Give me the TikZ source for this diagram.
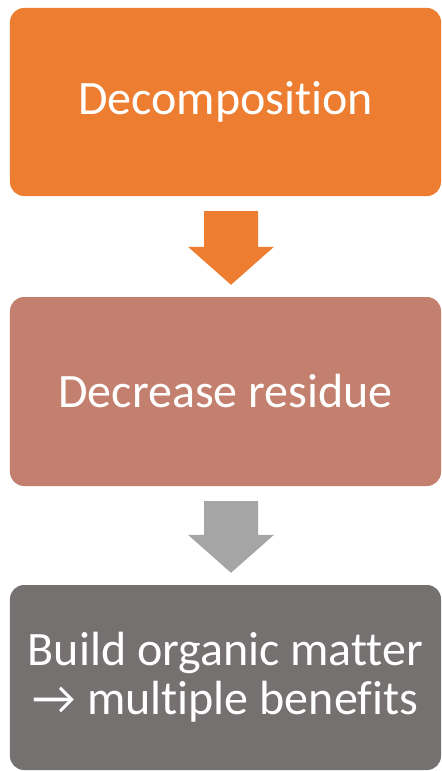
\documentclass[tikz,border=0pt]{standalone}
\usepackage{fontspec}
\setmainfont[Ligatures=NoCommon]{Carlito}
\usetikzlibrary{calc}
\definecolor{carrot}{HTML}{ED7D31}
\definecolor{clay}{HTML}{C4806F}
\definecolor{slate}{HTML}{767171}
\definecolor{ash}{HTML}{A5A5A5}
\tikzset{
  stagebox/.style={
    rounded corners=14bp, draw=none, text=white, align=center,
    minimum width=431bp, inner sep=0pt,
    font=\fontsize{48bp}{49bp}\selectfont},
}
% block arrow between two boxes
\newcommand{\blockarrow}[3]{%
  \coordinate (#1top) at ($(#2.south)+(5.5,15)$);
  \coordinate (#1tip) at ($(#3.north)+(5.5,-12)$);
  \fill[#1]
    ($(#1top)+(-27,0)$) -- ($(#1top)+(27,0)$) -- ($(#1tip)+(27,-38)$)
    -- ($(#1tip)+(43,-38)$) -- (#1tip) -- ($(#1tip)+(-43,-38)$)
    -- ($(#1tip)+(-27,-38)$) -- cycle;
}

\begin{document}
\begin{tikzpicture}[x=1bp,y=-1bp]
    \useasboundingbox (0,0) rectangle (442,771);
    \node[stagebox,fill=carrot,minimum height=188bp] (decomp) at (225.5,102) {Decomposition};
    \node[stagebox,fill=clay,minimum height=189bp] (residue) at (225.5,391.5) {Decrease residue};
    \node[stagebox,fill=slate,minimum height=185bp] (organic) at (225.5,677.5)
      {Build organic matter\\→ multiple benefits};
    \blockarrow{carrot}{decomp}{residue}
    \blockarrow{ash}{residue}{organic}
\end{tikzpicture}
\end{document}
